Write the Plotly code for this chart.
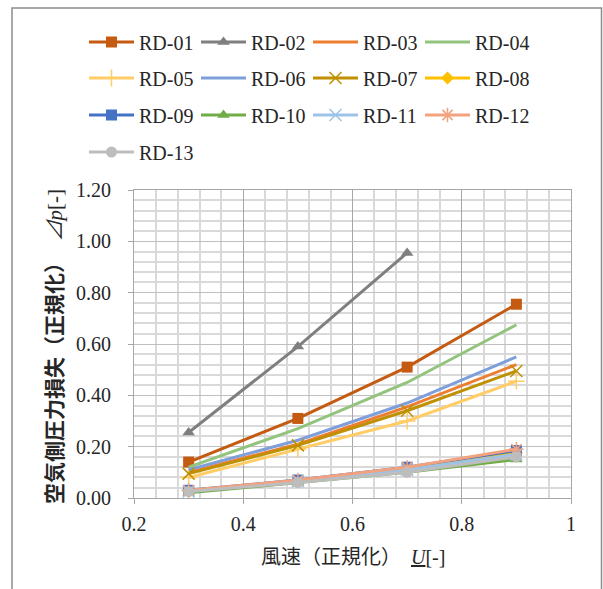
import plotly.graph_objects as go

# Normalised wind speed (x) and air-side pressure loss (y) per specimen
wind_speed = [0.3, 0.5, 0.7, 0.9]
wind_speed_rd02 = [0.3, 0.5, 0.7]

rd01 = [0.14, 0.31, 0.51, 0.755]
rd02 = [0.255, 0.59, 0.955]
rd03 = [0.10, 0.21, 0.355, 0.52]
rd04 = [0.12, 0.27, 0.45, 0.675]
rd05 = [0.08, 0.19, 0.30, 0.455]
rd06 = [0.11, 0.225, 0.37, 0.55]
rd07 = [0.095, 0.205, 0.34, 0.495]
rd08 = [0.025, 0.065, 0.115, 0.175]
rd09 = [0.03, 0.07, 0.12, 0.185]
rd10 = [0.02, 0.06, 0.10, 0.15]
rd11 = [0.025, 0.065, 0.11, 0.17]
rd12 = [0.03, 0.07, 0.12, 0.19]
rd13 = [0.025, 0.06, 0.10, 0.16]

names = ["RD-01", "RD-02", "RD-03", "RD-04", "RD-05", "RD-06", "RD-07",
         "RD-08", "RD-09", "RD-10", "RD-11", "RD-12", "RD-13"]
series = [rd01, rd02, rd03, rd04, rd05, rd06, rd07,
          rd08, rd09, rd10, rd11, rd12, rd13]
xs = [wind_speed, wind_speed_rd02] + [wind_speed] * 11

colors = ["#C55A11", "#7F7F7F", "#ED7D31", "#93C47D", "#FFCC66", "#7F9FDA",
          "#BF9000", "#FFC000", "#4472C4", "#70AD47", "#9DC3E6", "#F3A27F",
          "#BDBDBD"]
symbols = ["square", "triangle-up", None, None, "cross-thin", None,
           "x-thin", "diamond", "square", "triangle-up", "x-thin",
           "asterisk", "circle"]
legend_ids = ["legend"] * 4 + ["legend2"] * 4 + ["legend3"] * 4 + ["legend4"]

fig = go.Figure()
for name, x, y, c, s, lg in zip(names, xs, series, colors, symbols, legend_ids):
    if s is None:
        fig.add_trace(go.Scatter(x=x, y=y, name=name, mode="lines",
                                 line=dict(color=c, width=3), legend=lg))
    else:
        thin = s in ("cross-thin", "x-thin", "asterisk")
        marker = dict(symbol=s, size=12 if thin else (10 if s == "diamond" else 11),
                      color=c, line=dict(color=c, width=1.5 if thin else 0))
        fig.add_trace(go.Scatter(x=x, y=y, name=name, mode="lines+markers",
                                 line=dict(color=c, width=3), marker=marker,
                                 legend=lg))

serif = "Liberation Serif, Noto Sans CJK JP"
text_color = "#262626"

L, R, T, B = 134, 571, 190, 498
W, H = 603, 589


def px_x(v):
    return (v - L) / (R - L)


def px_y(v):
    return (B - v) / (B - T)


legend_common = dict(orientation="h", xanchor="left", yanchor="middle",
                     x=px_x(84), entrywidth=52, entrywidthmode="pixels",
                     itemwidth=45, bgcolor="rgba(0,0,0,0)", borderwidth=0,
                     font=dict(family=serif, size=20, color=text_color))

fig.update_layout(
    width=W, height=H,
    margin=dict(l=L, r=W - R, t=T, b=H - B),
    paper_bgcolor="white", plot_bgcolor="white",
    font=dict(family=serif, size=20, color=text_color),
    legend=dict(y=px_y(42), **legend_common),
    legend2=dict(y=px_y(78), **legend_common),
    legend3=dict(y=px_y(115), **legend_common),
    legend4=dict(y=px_y(152), **legend_common),
    xaxis=dict(range=[0.2, 1.0], tick0=0.2, dtick=0.2,
               showgrid=True, gridcolor="#A6A6A6", gridwidth=1,
               minor=dict(dtick=0.04, showgrid=True, gridcolor="#D9D9D9",
                          gridwidth=1.5),
               ticks="outside", ticklen=5, tickcolor="#A6A6A6",
               ticklabelstandoff=3,
               showline=True, mirror=True, linecolor="#A6A6A6", linewidth=1,
               zeroline=False,
               tickfont=dict(family=serif, size=20, color=text_color)),
    yaxis=dict(range=[0, 1.2], tick0=0, dtick=0.2, tickformat=".2f",
               showgrid=True, gridcolor="#BFBFBF", gridwidth=1,
               minor=dict(dtick=0.04, showgrid=True, gridcolor="#D9D9D9",
                          gridwidth=1.5),
               ticks="outside", ticklen=5, tickcolor="#A6A6A6",
               ticklabelstandoff=13,
               showline=True, mirror=True, linecolor="#A6A6A6", linewidth=1,
               zeroline=False,
               tickfont=dict(family=serif, size=20, color=text_color)),
    annotations=[
        dict(text="風速（正規化）  <u><i>U</i></u>[-]", xref="paper", yref="paper",
             x=0.5, y=px_y(557), xanchor="center", yanchor="middle",
             showarrow=False,
             font=dict(family=serif, size=20, color=text_color)),
        dict(text="<b>空気側圧力損失（正規化）</b>  <i>⊿p</i>[-]",
             xref="paper", yref="paper", x=px_x(55), y=px_y(347),
             xanchor="center", yanchor="middle", textangle=-90,
             showarrow=False,
             font=dict(family=serif, size=21, color=text_color)),
    ],
    shapes=[
        dict(type="rect", xref="paper", yref="paper",
             x0=px_x(12), x1=px_x(601.5), y0=px_y(620), y1=px_y(8),
             line=dict(color="#8C8C8C", width=1.5), fillcolor="rgba(0,0,0,0)",
             layer="below"),
    ],
)

fig.write_html("out.html")
